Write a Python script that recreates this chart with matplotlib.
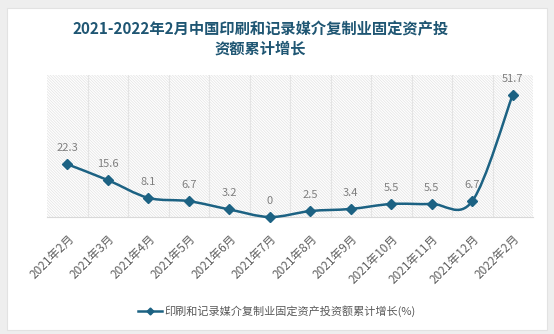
import matplotlib
matplotlib.use('Agg')
import matplotlib.pyplot as plt
import numpy as np
from matplotlib.path import Path
from matplotlib.patches import PathPatch, Rectangle

plt.rcParams['font.family'] = ['Noto Sans CJK SC', 'DejaVu Sans']
plt.rcParams['hatch.color'] = '#e2e2e2'
plt.rcParams['hatch.linewidth'] = 0.5

months = ['2021年2月', '2021年3月', '2021年4月', '2021年5月', '2021年6月', '2021年7月',
          '2021年8月', '2021年9月', '2021年10月', '2021年11月', '2021年12月', '2022年2月']
growth = [22.3, 15.6, 8.1, 6.7, 3.2, 0, 2.5, 3.4, 5.5, 5.5, 6.7, 51.7]
series_name = '印刷和记录媒介复制业固定资产投资额累计增长(%)'
title = '2021-2022年2月中国印刷和记录媒介复制业固定资产投\n资额累计增长'

line_color = '#1c6283'

fig = plt.figure(figsize=(5.54, 3.34), dpi=100)
fig.patch.set_facecolor('#eeeeee')
fig.patches.append(Rectangle((7 / 554, 4 / 334), 540 / 554, 322 / 334, transform=fig.transFigure,
                             facecolor='white', edgecolor='#e2e2e2', lw=0.8, zorder=-5))

ax = fig.add_axes([47 / 554, 117 / 334, 486 / 554, 142 / 334])
ax.set_zorder(2)
ax.patch.set_facecolor('white')
ax.patch.set_hatch('\\' * 12)
ax.patch.set_edgecolor('#e2e2e2')
ax.patch.set_linewidth(0)

x = np.arange(len(months))
y = np.array(growth, dtype=float)

# smoothed line through the points (Catmull-Rom segments as cubic Beziers)
verts = [(x[0], y[0])]
codes = [Path.MOVETO]
for i in range(len(x) - 1):
    p0 = np.array([x[max(i - 1, 0)], y[max(i - 1, 0)]])
    p1 = np.array([x[i], y[i]])
    p2 = np.array([x[i + 1], y[i + 1]])
    p3 = np.array([x[min(i + 2, len(x) - 1)], y[min(i + 2, len(x) - 1)]])
    c1 = p1 + (p2 - p0) / 6
    c2 = p2 - (p3 - p1) / 6
    verts += [tuple(c1), tuple(c2), tuple(p2)]
    codes += [Path.CURVE4] * 3
ax.add_patch(PathPatch(Path(verts, codes), facecolor='none', edgecolor=line_color,
                       lw=1.8, clip_on=False, zorder=3))
ax.plot(x, y, linestyle='none', marker='D', markersize=5, color=line_color,
        clip_on=False, zorder=4)
# legend proxy
ax.plot([], [], '-', marker='D', markersize=3.5, color=line_color, lw=1.8, label=series_name)

for xi, yi in zip(x, y):
    ax.annotate(f'{yi:g}', (xi, yi), xytext=(0, 8), textcoords='offset points',
                ha='center', va='bottom', fontsize=8, color='#7f7f7f')

ax.set_xlim(-0.5, len(months) - 0.5)
ax.set_ylim(0, 60)
ax.set_yticks([])
for b in np.arange(0.5, len(months) - 0.5, 1):
    ax.axvline(b, color='#e4e4e4', lw=0.8, zorder=1)
for s in ['left', 'right', 'top']:
    ax.spines[s].set_visible(False)
ax.spines['bottom'].set_color('#d9d9d9')
ax.set_xticks(x)
ax.set_xticklabels(months, rotation=45, ha='right', rotation_mode='anchor',
                   fontsize=8.5, fontweight='medium', color='#606060')
ax.tick_params(axis='x', length=0, pad=11)

fig.text(0.47, 0.885, title, ha='center', va='center', fontsize=11, fontweight='bold',
         color='#1f5673', linespacing=1.25)

fig.legend(loc='center', bbox_to_anchor=(0.5, 0.068), frameon=False, fontsize=8,
           handlelength=2.2, handletextpad=0.2, labelcolor='#595959')

fig.savefig('out.png', dpi=100)
